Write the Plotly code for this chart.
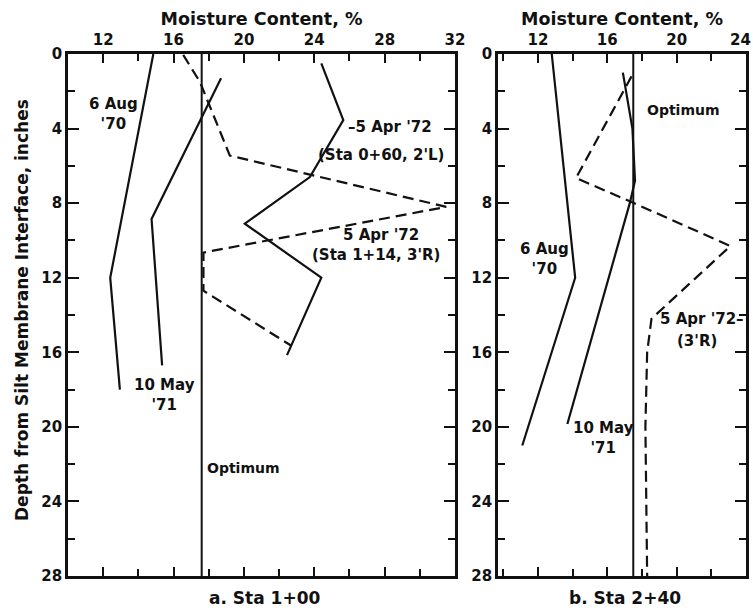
import plotly.graph_objects as go

# ---- Sta 1+00 (panel a) ----
a_aug70_x = [14.85, 12.4, 12.95]
a_aug70_y = [0.0, 12.0, 18.0]
a_may71_x = [18.7, 14.75, 15.35]
a_may71_y = [1.3, 8.85, 16.7]
a_apr72_060_x = [24.4, 25.65, 23.75, 20.05, 24.4, 22.45]
a_apr72_060_y = [0.5, 3.55, 6.6, 9.1, 12.0, 16.15]
a_apr72_114_x = [16.55, 17.5, 19.2, 31.5, 17.7, 17.7, 22.7]
a_apr72_114_y = [0.05, 1.5, 5.45, 8.2, 10.65, 12.7, 15.65]
a_optimum = 17.6

# ---- Sta 2+40 (panel b) ----
b_aug70_x = [12.8, 14.15, 11.1]
b_aug70_y = [0.0, 12.0, 21.0]
b_may71_x = [16.9, 17.45, 17.6, 17.3, 13.7]
b_may71_y = [1.0, 4.0, 6.8, 8.0, 19.85]
b_apr72_x = [17.4, 14.2, 17.3, 23.1, 18.55, 18.3, 18.2, 18.3]
b_apr72_y = [1.2, 6.65, 7.9, 10.3, 14.2, 16.0, 20.0, 28.0]
b_optimum = 17.5

depth_range = [28, 0]
a_moist_range = [10, 32]
b_moist_range = [9.7, 24]
a_moist_ticks = [12, 16, 20, 24, 28, 32]
b_moist_ticks = [12, 16, 20, 24]

INK = "#111111"
FONT = "DejaVu Sans"
LW = 2.2
DASH = "11px,6px"

fig = go.Figure()


def add_line(x, y, xa, ya, dash="solid", width=LW):
    fig.add_trace(go.Scatter(
        x=x, y=y, xaxis=xa, yaxis=ya, mode="lines",
        line=dict(color=INK, width=width, dash=dash),
        hoverinfo="skip", showlegend=False,
    ))


# panel a
add_line(a_aug70_x, a_aug70_y, "x", "y")
add_line(a_may71_x, a_may71_y, "x", "y")
add_line(a_apr72_060_x, a_apr72_060_y, "x", "y")
add_line(a_apr72_114_x, a_apr72_114_y, "x", "y", dash=DASH)
add_line([a_optimum, a_optimum], depth_range, "x", "y", width=2)

# panel b
add_line(b_aug70_x, b_aug70_y, "x2", "y2")
add_line(b_may71_x, b_may71_y, "x2", "y2")
add_line(b_apr72_x, b_apr72_y, "x2", "y2", dash=DASH)
add_line([b_optimum, b_optimum], depth_range, "x2", "y2", width=2)

tick_font = dict(family=FONT, size=15, color=INK, weight="bold")
title_font = dict(family=FONT, size=17.5, color=INK, weight="bold")

y_dom = [1 - 576 / 611, 1 - 54 / 611]


def xaxis(dom, rng, tickvals, ticktext):
    return dict(
        domain=dom, range=rng, side="top",
        tickmode="array", tickvals=tickvals, ticktext=ticktext,
        ticks="inside", ticklen=9, tickwidth=2.2, tickcolor=INK,
        minor=dict(dtick=2, tick0=0, ticks="inside", ticklen=7, tickwidth=2.2, tickcolor=INK),
        showline=True, linecolor=INK, linewidth=2.6, mirror="allticks",
        showgrid=False, zeroline=False, tickfont=tick_font, automargin=False,
        title=dict(text="Moisture Content, %", font=title_font, standoff=2),
        fixedrange=True,
    )


def yaxis(anchor):
    return dict(
        domain=y_dom, range=depth_range, anchor=anchor, dtick=4, tick0=0,
        ticks="inside", ticklen=11, tickwidth=2.2, tickcolor=INK,
        minor=dict(dtick=2, ticks="inside", ticklen=7, tickwidth=2.2, tickcolor=INK),
        showline=True, linecolor=INK, linewidth=2.6, mirror="allticks",
        showgrid=False, zeroline=False, tickfont=tick_font, automargin=False,
        fixedrange=True,
    )


# the last label of panel b sits at the page edge, so it is drawn as a note pulled inward
b_tick_text = [str(v) for v in b_moist_ticks[:-1]] + [""]

fig.update_layout(
    width=753, height=611,
    margin=dict(l=0, r=0, t=0, b=0),
    paper_bgcolor="white", plot_bgcolor="white",
    xaxis=dict(xaxis([68 / 753, 455 / 753], a_moist_range, a_moist_ticks,
                     [str(v) for v in a_moist_ticks]), anchor="y"),
    yaxis=yaxis("x"),
    xaxis2=dict(xaxis([498 / 753, 746 / 753], b_moist_range, b_moist_ticks, b_tick_text),
                anchor="y2"),
    yaxis2=yaxis("x2"),
    showlegend=False,
)

fig.add_annotation(text=str(b_moist_ticks[-1]), x=b_moist_ticks[-1], xref="x2",
                   y=1 - 40 / 611, yref="paper", xanchor="right", yanchor="middle",
                   xshift=7, showarrow=False, font=tick_font)


def note(text, x, y, xref, yref, xanchor="center", size=15):
    fig.add_annotation(
        text=text, x=x, y=y, xref=xref, yref=yref, showarrow=False,
        xanchor=xanchor, yanchor="middle", align="center",
        font=dict(family=FONT, size=size, color=INK, weight="bold"),
    )


# panel a labels
note("6 Aug<br>'70", 12.6, 3.2, "x", "y")
note("10 May<br>'71", 15.5, 18.3, "x", "y")
note("–5 Apr '72", 25.8, 3.9, "x", "y", xanchor="left")
note("(Sta 0+60, 2'L)", 27.8, 5.4, "x", "y")
note("5 Apr '72", 27.8, 9.7, "x", "y")
note("(Sta 1+14, 3'R)", 27.5, 10.8, "x", "y")
note("Optimum", 20.0, 22.2, "x", "y", size=14)

# panel b labels
note("Optimum", 20.4, 3.0, "x2", "y2", size=14)
note("6 Aug<br>'70", 12.4, 11.0, "x2", "y2")
note("10 May<br>'71", 15.8, 20.6, "x2", "y2")
note("5 Apr '72–", 24.0, 14.2, "x2", "y2", xanchor="right")
note("(3'R)", 21.2, 15.4, "x2", "y2")

# panel captions and shared axis title
cap_font = dict(family=FONT, size=17, color=INK, weight="bold")
fig.add_annotation(text="a. Sta 1+00", x=265 / 753, y=1 - 598 / 611, xref="paper", yref="paper",
                   xanchor="center", yanchor="middle", showarrow=False, font=cap_font)
fig.add_annotation(text="b. Sta 2+40", x=625 / 753, y=1 - 598 / 611, xref="paper", yref="paper",
                   xanchor="center", yanchor="middle", showarrow=False, font=cap_font)
fig.add_annotation(text="Depth from Silt Membrane Interface, inches", x=22 / 753, y=1 - 310 / 611,
                   xref="paper", yref="paper", xanchor="center", yanchor="middle",
                   showarrow=False, textangle=-90,
                   font=dict(family=FONT, size=17, color=INK, weight="bold"))

fig.write_html("out.html")
